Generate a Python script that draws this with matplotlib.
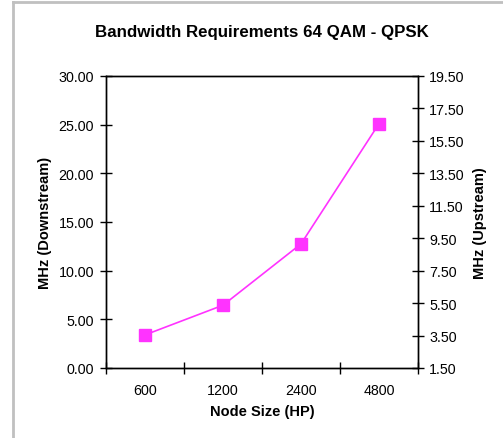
import matplotlib
matplotlib.use("Agg")
import matplotlib.pyplot as plt
from matplotlib.lines import Line2D

categories = ["600", "1200", "2400", "4800"]
downstream = [3.4, 6.45, 12.75, 25.1]
left_ticks = [0, 5, 10, 15, 20, 25, 30]
right_ticks = [1.5, 3.5, 5.5, 7.5, 9.5, 11.5, 13.5, 15.5, 17.5, 19.5]

plt.rcParams['font.family'] = ['Liberation Sans', 'DejaVu Sans']

W, H = 503, 439
fig = plt.figure(figsize=(W / 100, H / 100), dpi=100)
ax = fig.add_axes([106 / W, 1 - 369 / H, (418 - 106) / W, (369 - 77) / H])

x = list(range(len(categories)))
ax.plot(x, downstream, color='#FF33FF', lw=1.2, marker='s', markersize=8.5,
        markerfacecolor='#FF33FF', markeredgecolor='#FF33FF', zorder=3)

tfs = 10.3
ax.set_xlim(-0.5, len(categories) - 0.5)
ax.set_ylim(0, 30)
ax.set_yticks(left_ticks)
ax.set_yticklabels([f"{v:.2f}" for v in left_ticks], fontsize=tfs)
ax.set_xticks([i + 0.5 for i in range(-1, len(categories))])
ax.set_xticklabels([])
ax.set_xticks(x, minor=True)
ax.set_xticklabels(categories, minor=True, fontsize=tfs)
ax.tick_params(axis='x', which='minor', length=0, pad=11)
ax.tick_params(axis='x', which='major', direction='inout', length=8, width=1)
ax.tick_params(axis='y', direction='inout', length=8, width=1, pad=4.5)

ax2 = ax.twinx()
ax2.set_ylim(1.5, 19.5)
ax2.set_yticks(right_ticks)
ax2.set_yticklabels([f"{v:.2f}" for v in right_ticks], fontsize=tfs)
ax2.tick_params(axis='y', direction='inout', length=8, width=1, pad=4)

for a in (ax, ax2):
    for s in a.spines.values():
        s.set_linewidth(1.0)
        s.set_color('black')

ax.set_xlabel("Node Size (HP)", fontsize=10.5, fontweight='bold', labelpad=5)
ax.set_ylabel("MHz (Downstream)", fontsize=10.5, fontweight='bold', labelpad=5)
ax2.set_ylabel("MHz (Upstream)", fontsize=10.5, fontweight='bold', labelpad=6)

fig.text(262 / W, 1 - 33 / H, "Bandwidth Requirements 64 QAM - QPSK",
         ha='center', va='center', fontsize=12.2, fontweight='bold')

# figure frame (left and top edges visible)
fig.add_artist(Line2D([13 / W, 13 / W], [0, 1 - 3 / H], transform=fig.transFigure,
                      color='#C0C0C0', lw=2))
fig.add_artist(Line2D([13 / W, 1], [1 - 3 / H, 1 - 3 / H], transform=fig.transFigure,
                      color='#C0C0C0', lw=2))

fig.savefig("out.png", dpi=100)
